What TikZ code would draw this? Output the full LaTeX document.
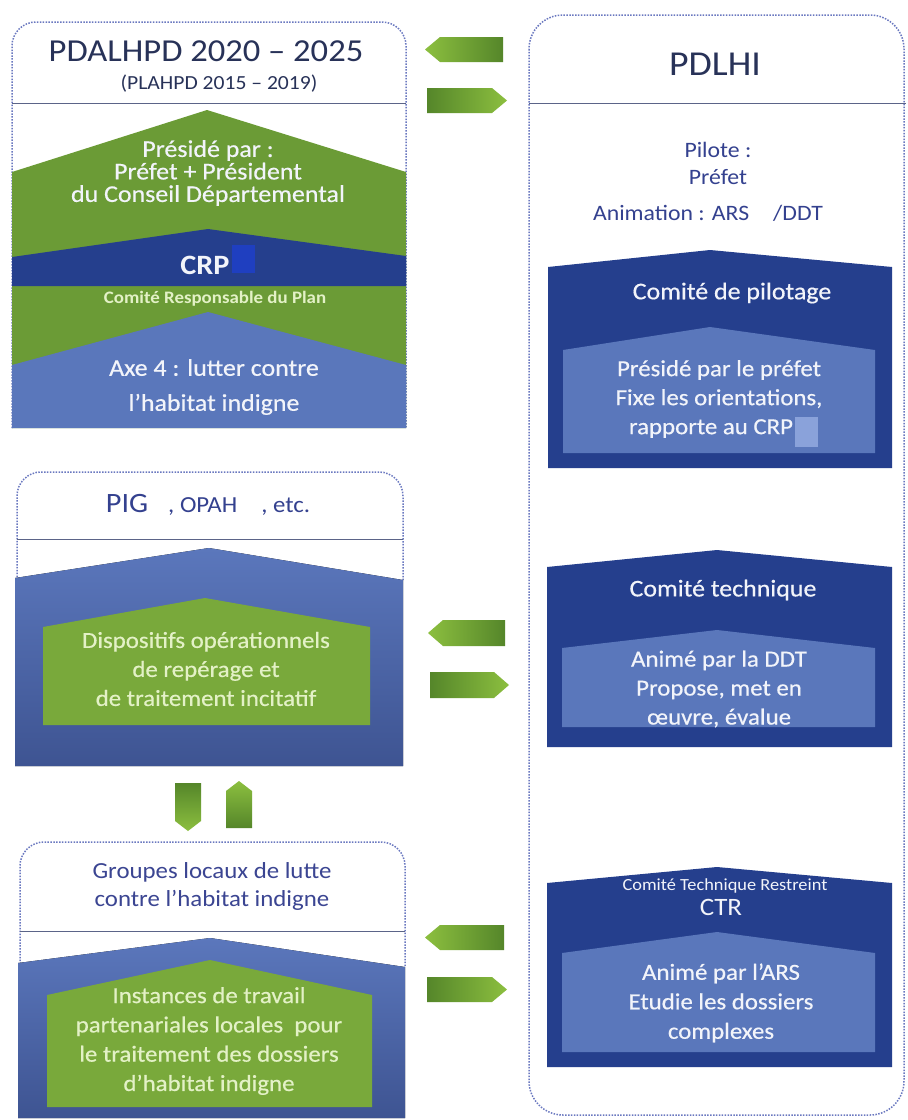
\documentclass[tikz,border=0pt]{standalone}
\usepackage{fontspec}
\setmainfont[FakeStretch=1.08]{Carlito}
\newfontfamily\shapefont[FakeStretch=1.08,FakeBold=0.5]{Carlito}
\definecolor{navy}{HTML}{283258}
\definecolor{hblue}{HTML}{34418F}
\definecolor{gtitle}{HTML}{3B4592}
\definecolor{grn}{HTML}{6B9B36}
\definecolor{grnin}{HTML}{79A93B}
\definecolor{dblue}{HTML}{253F8D}
\definecolor{lblue}{HTML}{5A77BB}
\definecolor{shA}{HTML}{5B77BC}
\definecolor{shB}{HTML}{3E5492}
\definecolor{sqblue}{HTML}{1F3FC0}
\definecolor{sqlight}{HTML}{8AA2DA}
\definecolor{gtext}{HTML}{E3F1C6}
\definecolor{wtext}{HTML}{F2F4FA}
\definecolor{brd}{HTML}{6A78C0}
\definecolor{hline}{HTML}{5B6488}
\definecolor{arD}{HTML}{55862A}
\definecolor{arL}{HTML}{8CBF3F}
\begin{document}
\begin{tikzpicture}[x=1pt,y=-1pt,
  border/.style={draw=brd,line width=1.5pt,dash pattern=on 1.5pt off 1.4pt},
  panelline/.style={draw=hline,line width=1pt},
  ttl/.style={text=navy,align=center,inner sep=0pt},
  htxt/.style={text=hblue,align=center,inner sep=0pt},
  wtxt/.style={text=wtext,align=center,inner sep=0pt},
  gtxt/.style={text=gtext,align=center,inner sep=0pt},
  arL/.style={left color=arL,right color=arD},
  arR/.style={left color=arD,right color=arL},
  arDn/.style={top color=arD,bottom color=arL},
  arUp/.style={top color=arL,bottom color=arD}]
\useasboundingbox (0,0) rectangle (908,1120);
\fill[white] (0,0) rectangle (908,1120);

% ---------- Panel 1 : PDALHPD ----------
\draw[border,rounded corners=24pt] (12,428) -- (12,22) -- (406,22) -- (406,428);
\draw[panelline] (12,103) -- (406,103);
\node[ttl,font=\fontsize{32}{36}\selectfont] (t1) at (206,51) {PDALHPD 2020 – 2025};
\node[ttl,font=\fontsize{20}{24}\selectfont] (t1b) at (219,84) {(PLAHPD 2015 – 2019)};
\fill[grn] (207,110) -- (406,172) -- (406,428) -- (12,428) -- (12,172) -- cycle;
\fill[dblue] (208,229) -- (406,256) -- (406,286) -- (12,286) -- (12,257) -- cycle;
\fill[lblue] (208,312) -- (406,365) -- (406,428) -- (12,428) -- (12,365) -- cycle;
\node[wtxt,font=\shapefont\fontsize{24}{22.5}\selectfont] (pres) at (208,173) {Présidé par :\\Préfet + Président\\du Conseil Départemental};
\node[wtxt,font=\bfseries\fontsize{28}{32}\selectfont] (crp) at (205,265) {CRP};
\fill[sqblue] (232,245) rectangle (255,273);
\node[text=gtext,inner sep=0pt,font=\bfseries\fontsize{17.5}{20}\selectfont] (crpl) at (215,299) {Comité Responsable du Plan};
\node[wtxt,font=\shapefont\fontsize{24}{35}\selectfont] (axe) at (214,387) {Axe 4 : lutter contre\\l’habitat indigne};

% ---------- Right panel : PDLHI ----------
\draw[border,rounded corners=34pt] (529,15) rectangle (904,1115);
\draw[panelline] (529,103) -- (906,103);
\node[ttl,font=\fontsize{35}{40}\selectfont] (pdlhi) at (715,64) {PDLHI};
\node[htxt,font=\fontsize{22}{26}\selectfont] (pil) at (718,150) {Pilote :};
\node[htxt,font=\fontsize{22}{26}\selectfont] (pref) at (718,177) {Préfet};
\node[htxt,font=\fontsize{22}{26}\selectfont] (anim) at (708,213) {Animation : ARS\hspace{24pt}/DDT};

% Comite de pilotage
\fill[dblue] (710,250) -- (892,267) -- (892,468) -- (548,468) -- (548,267) -- cycle;
\fill[lblue] (710,327) -- (875,350) -- (875,453) -- (563,453) -- (563,350) -- cycle;
\node[wtxt,font=\shapefont\fontsize{24}{28}\selectfont] (copil) at (732,293) {Comité de pilotage};
\node[wtxt,font=\shapefont\fontsize{23}{29}\selectfont] (copiltxt) at (719,399) {Présidé par le préfet\\Fixe les orientations,\\rapporte au CRP\hbox to 16pt{}};
\fill[sqlight] (795,417) rectangle (818,447);

% Comite technique
\fill[dblue] (717,550) -- (892,567) -- (892,747) -- (547,747) -- (547,567) -- cycle;
\fill[lblue] (717,630) -- (875,648) -- (875,727) -- (562,727) -- (562,648) -- cycle;
\node[wtxt,font=\shapefont\fontsize{24}{28}\selectfont] (cotech) at (723,590) {Comité technique};
\node[wtxt,font=\shapefont\fontsize{23}{29}\selectfont] (cotechtxt) at (719,689) {Animé par la DDT\\Propose, met en\\œuvre, évalue};

% CTR
\fill[dblue] (717,867) -- (892,883) -- (892,1067) -- (547,1067) -- (547,883) -- cycle;
\fill[lblue] (717,932) -- (875,953) -- (875,1052) -- (562,1052) -- (562,953) -- cycle;
\node[wtxt,font=\fontsize{17}{20}\selectfont] (ctrl) at (725,886) {Comité Technique Restreint};
\node[wtxt,font=\fontsize{25}{28}\selectfont] (ctr) at (721,907) {CTR};
\node[wtxt,font=\shapefont\fontsize{23}{29.5}\selectfont] (ctrtxt) at (721,1003) {Animé par l’ARS\\Etudie les dossiers\\complexes};

% ---------- Panel 2 : PIG ----------
\draw[border,rounded corners=24pt] (17,580) -- (17,472) -- (403,472) -- (403,580);
\draw[panelline] (17,539) -- (403,539);
\node[htxt,font=\fontsize{23}{27}\selectfont] (pig) at (208,505) {{\fontsize{28}{30}\selectfont PIG}\hspace{20pt}, OPAH\hspace{24pt}, etc.};
\fill[top color=shA,bottom color=shB] (209,548) -- (403,580) -- (403,766) -- (15,766) -- (15,578) -- cycle;
\fill[grnin] (205,598) -- (370,627) -- (370,725) -- (43,725) -- (43,627) -- cycle;
\node[gtxt,font=\shapefont\fontsize{23}{29}\selectfont] (disp) at (206,669) {Dispositifs opérationnels\\de repérage et\\de traitement incitatif};

% ---------- Panel 3 : Groupes locaux ----------
\draw[border,rounded corners=24pt] (20,967) -- (20,842) -- (405,842) -- (405,967);
\draw[panelline] (20,931) -- (405,931);
\node[text=gtitle,align=center,inner sep=0pt,font=\fontsize{23}{28}\selectfont] (grp) at (212,886) {Groupes locaux de lutte\\contre l’habitat indigne};
\fill[top color=shA,bottom color=shB] (210,938) -- (405,967) -- (405,1118) -- (18,1118) -- (18,963) -- cycle;
\fill[grnin] (210,960) -- (372,995) -- (372,1107) -- (47,1107) -- (47,995) -- cycle;
\node[gtxt,font=\shapefont\fontsize{23}{29.3}\selectfont] (inst) at (209,1041) {Instances de travail\\partenariales locales~ pour\\le traitement des dossiers\\d’habitat indigne};

% ---------- Block arrows ----------
\path[arL] (425,49.5) -- (440,37) -- (503,37) -- (503,62) -- (440,62) -- cycle;
\path[arR] (427,88) -- (492,88) -- (507,100.5) -- (492,113) -- (427,113) -- cycle;
\path[arL] (428,633) -- (443,620) -- (505,620) -- (505,646) -- (443,646) -- cycle;
\path[arR] (430,672) -- (494,672) -- (509,685) -- (494,698) -- (430,698) -- cycle;
\path[arL] (425,937.5) -- (440,925) -- (504,925) -- (504,950) -- (440,950) -- cycle;
\path[arR] (427,977) -- (492,977) -- (507,989.5) -- (492,1002) -- (427,1002) -- cycle;
\path[arDn] (175,783) -- (201,783) -- (201,821) -- (188,831) -- (175,821) -- cycle;
\path[arUp] (239,781) -- (252,791) -- (252,828) -- (226,828) -- (226,791) -- cycle;
\end{tikzpicture}
\end{document}
